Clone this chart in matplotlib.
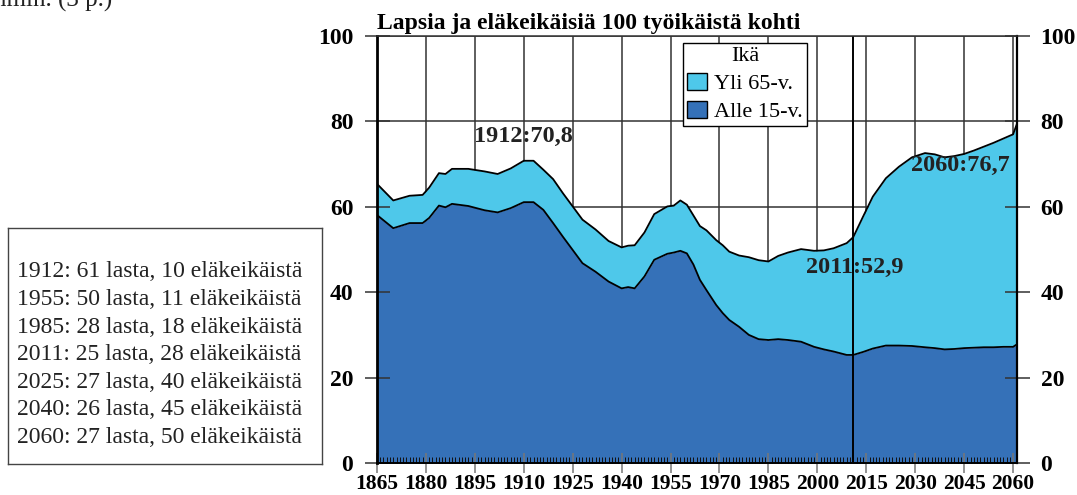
import matplotlib
matplotlib.use("Agg")
import matplotlib.pyplot as plt
from matplotlib.patches import Patch
from matplotlib.ticker import MultipleLocator

# ----------------------------------------------------------------------------------------------------------------------
# Data (per 100 working-age persons)

vuodet = [1865, 1870, 1875, 1879, 1881, 1884, 1886, 1888, 1893, 1898, 1902, 1906, 1910, 1913,
          1916, 1919, 1922, 1925, 1928, 1932, 1936, 1940, 1942, 1944, 1947, 1950, 1954, 1956,
          1958, 1960, 1962, 1964, 1966, 1969, 1971, 1973, 1976, 1979, 1982, 1985, 1988, 1991,
          1995, 1999, 2002, 2005, 2009, 2011, 2014, 2017, 2021, 2025, 2029, 2033, 2036, 2039,
          2042, 2045, 2048, 2051, 2054, 2057, 2060, 2061.2]

# Alle 15-v. (lower band, top edge)
alle_15 = [58.1, 55.0, 56.2, 56.2, 57.4, 60.3, 59.9, 60.7, 60.2, 59.2, 58.7, 59.7, 61.1, 61.1,
           59.3, 56.2, 53.0, 49.9, 46.8, 44.8, 42.5, 40.9, 41.2, 40.9, 43.7, 47.6, 49.0, 49.3,
           49.7, 49.1, 46.5, 42.9, 40.5, 37.0, 35.1, 33.5, 31.9, 30.0, 29.0, 28.8, 29.0, 28.8,
           28.4, 27.2, 26.6, 26.1, 25.3, 25.3, 26.0, 26.8, 27.5, 27.5, 27.4, 27.1, 26.9, 26.6,
           26.7, 26.9, 27.0, 27.1, 27.1, 27.2, 27.2, 27.8]

# Alle 15-v. + Yli 65-v. (upper band, top edge)
yhteensa = [65.4, 61.5, 62.6, 62.8, 64.5, 67.9, 67.7, 68.9, 68.9, 68.3, 67.7, 69.0, 70.8, 70.8,
            68.7, 66.5, 63.2, 60.1, 57.0, 54.7, 52.0, 50.5, 50.9, 51.0, 54.0, 58.3, 60.1, 60.3,
            61.5, 60.5, 58.0, 55.5, 54.5, 52.2, 51.0, 49.5, 48.6, 48.2, 47.5, 47.2, 48.5, 49.3,
            50.1, 49.7, 49.8, 50.3, 51.5, 52.9, 57.7, 62.4, 66.7, 69.4, 71.6, 72.6, 72.3, 71.6,
            71.9, 72.4, 73.2, 74.1, 75.0, 76.0, 77.0, 79.5]

x_tikit = list(range(1865, 2061, 15))
y_tikit = [0, 20, 40, 60, 80, 100]

huomiot = ["1912:70,8", "2011:52,9", "2060:76,7"]
huomio_paikat = [(1909.8, 76.6), (2011.5, 45.7), (2043.7, 69.6)]

laatikko_rivit = [
    "1912: 61 lasta, 10 eläkeikäistä",
    "1955: 50 lasta, 11 eläkeikäistä",
    "1985: 28 lasta, 18 eläkeikäistä",
    "2011: 25 lasta, 28 eläkeikäistä",
    "2025: 27 lasta, 40 eläkeikäistä",
    "2040: 26 lasta, 45 eläkeikäistä",
    "2060: 27 lasta, 50 eläkeikäistä",
]

# ----------------------------------------------------------------------------------------------------------------------

VAALEA = "#4ec8ea"
TUMMA = "#3571b8"
SERIF = ["Liberation Serif", "DejaVu Serif"]

plt.rcParams["font.family"] = SERIF

fig = plt.figure(figsize=(10.77, 4.95), dpi=100)
ax = fig.add_axes([0.350, 0.0648, 0.5943, 0.8622])

# Grid behind the areas
for x in x_tikit:
    ax.axvline(x, color="#333333", lw=1.1, zorder=0)
for y in y_tikit[1:]:
    ax.axhline(y, color="#333333", lw=1.1, zorder=0)

ax.fill_between(vuodet, 0, alle_15, color=TUMMA, lw=0, zorder=1)
ax.fill_between(vuodet, alle_15, yhteensa, color=VAALEA, lw=0, zorder=1)
ax.plot(vuodet, alle_15, color="black", lw=1.3, zorder=2)
ax.plot(vuodet, yhteensa, color="black", lw=1.3, zorder=2)

ax.axvline(2011, color="black", lw=1.4, zorder=3)

ax.set_xlim(1865, 2061.2)
ax.set_ylim(0, 100)

ax.set_xticks(x_tikit)
ax.set_yticks(y_tikit)
ax.xaxis.set_minor_locator(MultipleLocator(1))
ax.tick_params(axis="x", which="major", direction="inout", length=14, width=1.1,
               color="#777777", labelsize=15.5, pad=1)
ax.tick_params(axis="x", which="minor", direction="in", length=4, width=0.7, color="#111111")
ax.tick_params(axis="y", which="major", direction="inout", length=18, width=1.1,
               color="#333333", labelsize=17, pad=8, left=True, right=True,
               labelleft=True, labelright=True)
for lab in ax.get_xticklabels() + ax.get_yticklabels():
    lab.set_fontweight("bold")

ax.spines["left"].set_linewidth(2.0)
ax.spines["right"].set_linewidth(1.6)
ax.spines["bottom"].set_linewidth(1.4)
ax.spines["top"].set_linewidth(1.1)
ax.spines["top"].set_color("#333333")
for s in ax.spines.values():
    s.set_zorder(4)

ax.set_title("Lapsia ja eläkeikäisiä 100 työikäistä kohti", loc="left", fontsize=17,
             fontweight="bold", pad=5)

for teksti, (hx, hy) in zip(huomiot, huomio_paikat):
    ax.text(hx, hy, teksti, ha="center", va="center", fontsize=17.5, fontweight="bold",
            color="#222222", zorder=5)

kahvat = [Patch(facecolor=VAALEA, edgecolor="black", lw=1.0),
          Patch(facecolor=TUMMA, edgecolor="black", lw=1.0)]
leg = ax.legend(kahvat, ["Yli 65-v.", "Alle 15-v."], title="Ikä", loc="upper left",
                bbox_to_anchor=(0.478, 0.985), fontsize=16, title_fontsize=16,
                frameon=True, fancybox=False, edgecolor="black", framealpha=1,
                handlelength=0.9, handleheight=0.8, handletextpad=0.3,
                borderpad=0.2, labelspacing=0.3, borderaxespad=0)
leg.get_frame().set_linewidth(1.0)
leg.set_zorder(6)

# Left text box
laatikko = fig.add_axes([8 / 1077, (495 - 464) / 495, 314 / 1077, 236 / 495])
laatikko.set_xticks([])
laatikko.set_yticks([])
for s in laatikko.spines.values():
    s.set_linewidth(1.0)
    s.set_color("#444444")
for i, rivi in enumerate(laatikko_rivit):
    laatikko.text(0.03, 0.814 - i * 0.117, rivi, fontsize=17, va="center", ha="left",
                  color="#222222", transform=laatikko.transAxes)

# Cut-off text fragment at top-left of the page (cut off in the reference as well)
fig.text(-0.012, 1.0, "mmin. (3 p.)", fontsize=18, va="center", ha="left", color="#222222")

fig.savefig("out.png", dpi=100)
